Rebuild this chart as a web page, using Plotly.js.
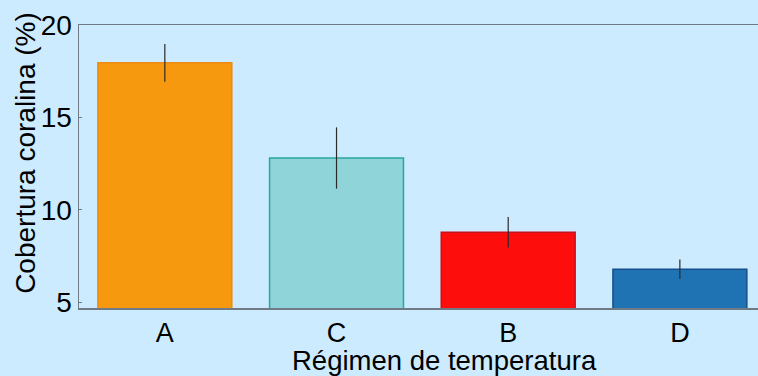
<!DOCTYPE html>
<html>
<head>
<meta charset="utf-8">
<script src="https://cdn.plot.ly/plotly-3.0.1.min.js"></script>
<style>html,body{margin:0;padding:0;background:#cdebfe;}#chart{width:758px;height:376px;}</style>
</head>
<body>
<div id="chart"></div>
<script>
const categories = ["A", "C", "B", "D"];
const coverValues = [17.95, 12.8, 8.78, 6.78];
const errorValues = [1.02, 1.66, 0.82, 0.53];
const barColors = ["#f7990f", "#8fd4d9", "#fe0d0d", "#1f73b3"];
const edgeColors = ["#ec8a12", "#2ba59f", "#c4131d", "#174f8c"];
const yTicks = [5, 10, 15, 20];
const xTitle = "Régimen de temperatura";
const yTitle = "Cobertura coralina (%)";

const font = "Liberation Sans, Arial, sans-serif";

const trace = {
  type: "bar",
  x: categories,
  y: coverValues,
  width: 0.78,
  marker: { color: barColors, line: { color: edgeColors, width: 1.5 } },
  error_y: { type: "data", array: errorValues, visible: true, color: "#2a2a2a", thickness: 1.2, width: 0 },
  hoverinfo: "none"
};

const layout = {
  width: 758, height: 376,
  paper_bgcolor: "#cdebfe",
  plot_bgcolor: "#cdebfe",
  margin: { l: 79, r: 0, t: 25, b: 68 },
  showlegend: false,
  font: { family: font, color: "#000", size: 28 },
  xaxis: {
    type: "category",
    range: [-0.5, 3.455],
    showline: true, mirror: true, linecolor: "#6f7a84", linewidth: 1.5,
    ticks: "", showgrid: false, zeroline: false,
    tickfont: { family: font, size: 27, color: "#000" }
  },
  yaxis: {
    range: [4.68, 20],
    tickvals: yTicks,
    ticktext: yTicks.map(String),
    showline: true, mirror: false, linecolor: "#6f7a84", linewidth: 1.5,
    ticks: "inside", ticklen: 3, tickcolor: "#6f7a84",
    showgrid: false, zeroline: false,
    tickfont: { family: font, size: 28, color: "#000" }
  },
  annotations: [
    { text: xTitle, xref: "paper", yref: "paper", x: 0.539, y: -0.187,
      xanchor: "center", yanchor: "middle", showarrow: false,
      font: { family: font, size: 27.5, color: "#000" } },
    { text: yTitle, xref: "paper", yref: "paper", x: -0.079, y: 0.5495,
      xanchor: "center", yanchor: "middle", showarrow: false, textangle: -90,
      font: { family: font, size: 28, color: "#000" } }
  ]
};

Plotly.newPlot("chart", [trace], layout, { staticPlot: true, displayModeBar: false });
</script>
</body>
</html>
